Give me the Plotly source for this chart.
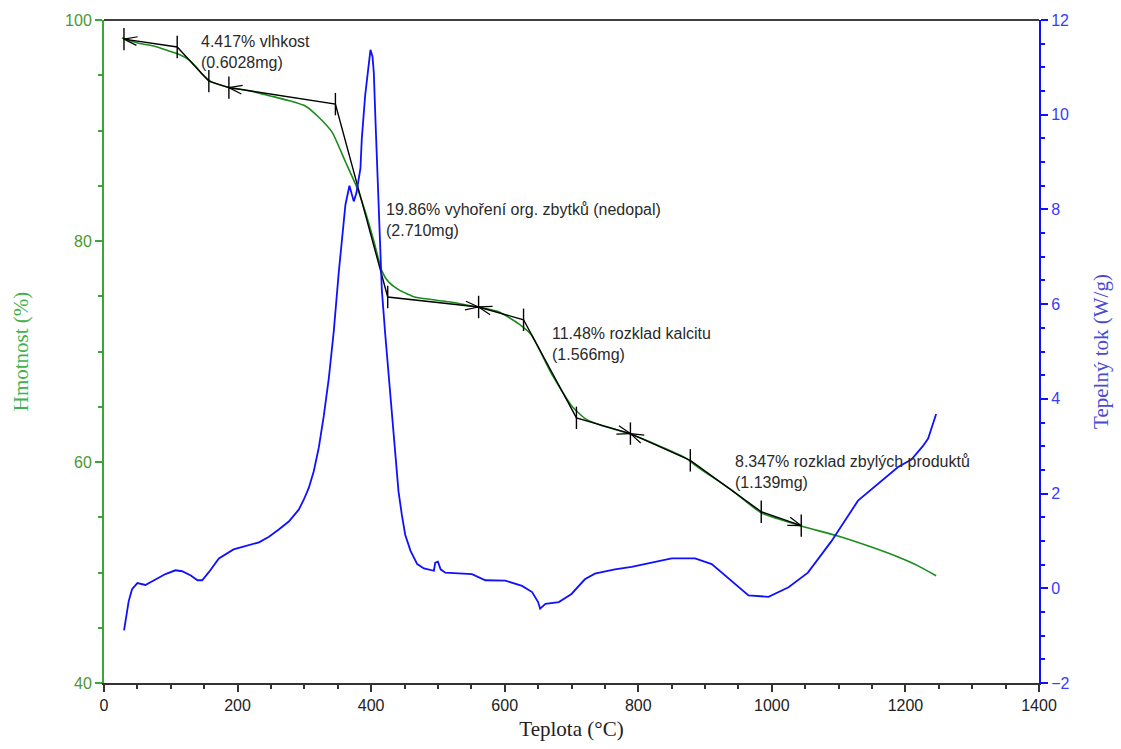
import math
import plotly.graph_objects as go

# ---------------- data ----------------
# TGA mass curve (temperature °C, mass %)
tga_t = [27, 32, 52, 77, 92, 112, 127, 137, 147, 161, 187, 217, 251, 277, 302, 321.6, 341.5,
         361.5, 379, 391, 404, 416, 426, 441, 467, 516, 561, 591, 621, 640, 670, 700, 721,
         745, 785, 830, 870, 890, 939, 984, 1044, 1099, 1149, 1189, 1219, 1246]
tga_m = [98.4, 98.27, 97.9, 97.6, 97.3, 96.9, 96.4, 95.8, 95.1, 94.4, 93.9, 93.6, 93.1, 92.7,
         92.2, 91.2, 89.85, 87.17, 84.8, 82.7, 80.0, 77.3, 76.3, 75.6, 74.9, 74.5, 74.0, 73.6,
         72.5, 71.5, 68.0, 65.1, 63.9, 63.3, 62.6, 61.5, 60.4, 59.5, 57.5, 55.4, 54.2, 53.3,
         52.3, 51.4, 50.6, 49.7]

# DSC heat-flow curve (temperature °C, W/g)
dsc_t = [30, 33, 37, 42, 50, 62, 77, 92, 107, 117, 130, 140, 147, 157, 172, 194, 232, 247,
         261.7, 276.7, 291.6, 299.1, 306.6, 314.1, 321.6, 329.1, 336.5, 344.0, 351.5, 357.5,
         361.5, 367.5, 371, 374, 378, 384, 386, 391, 395, 399,
         402, 404, 406.4, 410, 412, 416, 421, 429, 438.7, 441, 446, 451, 459, 469, 479, 494,
         496, 500, 504, 511, 551, 571, 601, 626, 641, 650, 653, 661, 681, 700, 720, 735, 765,
         790, 850, 885, 910, 940, 965, 995, 1025, 1054, 1089, 1129, 1170, 1189, 1209, 1226,
         1234, 1240, 1246]
dsc_h = [-0.89, -0.60, -0.27, -0.02, 0.11, 0.07, 0.19, 0.30, 0.38, 0.36, 0.27, 0.17, 0.17,
         0.34, 0.63, 0.82, 0.97, 1.09, 1.24, 1.41, 1.66, 1.87, 2.12, 2.47, 2.97, 3.64, 4.42,
         5.42, 6.67, 7.61, 8.10, 8.50, 8.35,
         8.17, 8.35, 8.87, 9.49, 10.40, 10.89, 11.37, 11.23, 10.89, 9.91, 8.52, 7.76, 6.30,
         5.38, 4.06, 2.39, 2.04, 1.55, 1.13, 0.79, 0.51, 0.42, 0.37, 0.54, 0.56, 0.40, 0.33,
         0.30, 0.17, 0.16, 0.05, -0.08, -0.29, -0.43, -0.33, -0.29, -0.12, 0.19, 0.31, 0.40,
         0.45, 0.63, 0.63, 0.51, 0.16, -0.15, -0.18, 0.02, 0.33, 0.99, 1.85, 2.33, 2.56, 2.72,
         3.0, 3.16, 3.43, 3.68]

# step-evaluation construction points (temperature °C, mass %)
step_t = [29.9, 109.6, 157.0, 187.0, 346.5, 424.8, 560.9, 628.2, 707.4, 788.2, 877.9, 984.1, 1044.0]
step_m = [98.27, 97.56, 94.47, 93.88, 92.39, 74.93, 74.03, 72.87, 64.0, 62.57, 60.15, 55.5, 54.24]
# arrow marks: (index of construction point, side the arrow comes from: +1 right, -1 left)
arrow_idx = [0, 3, 6, 6, 9, 9, 12]
arrow_side = [1, 1, -1, 1, -1, 1, -1]

step_labels = ["4.417% vlhkost<br>(0.6028mg)",
               "19.86% vyhoření org. zbytků (nedopal)<br>(2.710mg)",
               "11.48% rozklad kalcitu<br>(1.566mg)",
               "8.347% rozklad zbylých produktů<br>(1.139mg)"]
label_t = [142.0, 418.8, 668.1, 942.3]
label_m = [97.09, 81.94, 70.65, 59.10]

# ---------------- layout geometry ----------------
W, H = 1121, 749
ML, MR, MT, MB = 104, 80, 20, 59
XR = [0, 1400]
YR = [40, 100]
Y2R = [-2, 12]
pw = W - ML - MR
ph = H - MT - MB
sx = pw / (XR[1] - XR[0])
sy = ph / (YR[1] - YR[0])

GREEN_CURVE = "#1a8c1a"
GREEN_AXIS = "#3aa63a"
BLUE = "#1010ff"

fig = go.Figure()

fig.add_trace(go.Scatter(x=tga_t, y=tga_m, mode="lines", name="TGA",
                         line=dict(color=GREEN_CURVE, width=1.6, shape="spline", smoothing=0.5),
                         yaxis="y", showlegend=False))

# construction lines
fig.add_trace(go.Scatter(x=step_t, y=step_m, mode="lines", line=dict(color="black", width=1.4),
                         yaxis="y", showlegend=False, hoverinfo="skip"))
fig.add_trace(go.Scatter(x=step_t, y=step_m, mode="markers",
                         marker=dict(symbol="line-ns", size=16,
                                     line=dict(color="black", width=1.4)),
                         yaxis="y", showlegend=False, hoverinfo="skip"))

# chevron arrows computed from construction points
ax_, ay_ = [], []
for i, s in zip(arrow_idx, arrow_side):
    t0, m0 = step_t[i], step_m[i]
    t1, m1 = step_t[i + s], step_m[i + s]
    dx = (t1 - t0) * sx
    dy = (m1 - m0) * sy
    L = math.hypot(dx, dy)
    ux, uy = dx / L, dy / L
    arm = 14
    for ang in (0.32, -0.32):
        cx = ux * math.cos(ang) - uy * math.sin(ang)
        cy = ux * math.sin(ang) + uy * math.cos(ang)
        ax_ += [t0, t0 + cx * arm / sx, None]
        ay_ += [m0, m0 + cy * arm / sy, None]
fig.add_trace(go.Scatter(x=ax_, y=ay_, mode="lines", line=dict(color="black", width=1.2),
                         yaxis="y", showlegend=False, hoverinfo="skip"))

fig.add_trace(go.Scatter(x=dsc_t, y=dsc_h, mode="lines", name="DSC",
                         line=dict(color=BLUE, width=1.8), yaxis="y2",
                         showlegend=False))

for txt, t, m in zip(step_labels, label_t, label_m):
    fig.add_annotation(x=t, y=m, xref="x", yref="y", text=txt, showarrow=False,
                       xanchor="left", yanchor="middle", align="left",
                       font=dict(family="Liberation Sans, Arial", size=16, color="#2a2a2a"))

fig.add_shape(type="line", xref="paper", yref="paper", x0=0, x1=1, y0=1, y1=1,
              line=dict(color="black", width=1.5))

fig.update_layout(
    width=W, height=H,
    margin=dict(l=ML, r=MR, t=MT, b=MB, pad=0),
    paper_bgcolor="white", plot_bgcolor="white",
    showlegend=False,
    xaxis=dict(range=XR, dtick=200, tick0=0, ticks="outside", ticklen=7, tickwidth=1.5,
               tickcolor="#333333", showline=True, linecolor="#333333", linewidth=2,
               showgrid=False, zeroline=False,
               minor=dict(dtick=50, ticks="outside", ticklen=4, tickwidth=1.5,
                          tickcolor="#333333", showgrid=False),
               tickfont=dict(family="Liberation Sans, Arial", size=16, color="#222222"),
               title=dict(text="Teplota (°C)", standoff=8,
                          font=dict(family="Liberation Serif, Times New Roman", size=21,
                                    color="#222222"))),
    yaxis=dict(range=YR, dtick=20, tick0=40, ticks="outside", ticklen=7, tickwidth=1.5,
               tickcolor=GREEN_AXIS, showline=True, linecolor=GREEN_AXIS, linewidth=2,
               showgrid=False, zeroline=False,
               minor=dict(dtick=5, ticks="outside", ticklen=4, tickwidth=1.5,
                          tickcolor=GREEN_AXIS, showgrid=False),
               tickfont=dict(family="Liberation Sans, Arial", size=16, color="#4a9a2e"),
               title=dict(text="Hmotnost (%)", standoff=31,
                          font=dict(family="Liberation Serif, Times New Roman", size=21,
                                    color="#3db34f"))),
    yaxis2=dict(range=Y2R, dtick=2, tick0=-2, overlaying="y", side="right", anchor="x",
                ticks="outside", ticklen=7, tickwidth=1.5, tickcolor=BLUE,
                showline=True, linecolor=BLUE, linewidth=2,
                showgrid=False, zeroline=False,
                minor=dict(dtick=0.5, ticks="outside", ticklen=4, tickwidth=1.5,
                           tickcolor=BLUE, showgrid=False),
                tickfont=dict(family="Liberation Sans, Arial", size=16, color="#3a3aff"),
                title=dict(text="Tepelný tok (W/g)", standoff=25,
                           font=dict(family="Liberation Serif, Times New Roman", size=21,
                                     color="#4a4ad6"))),
)

fig.write_html("out.html")
